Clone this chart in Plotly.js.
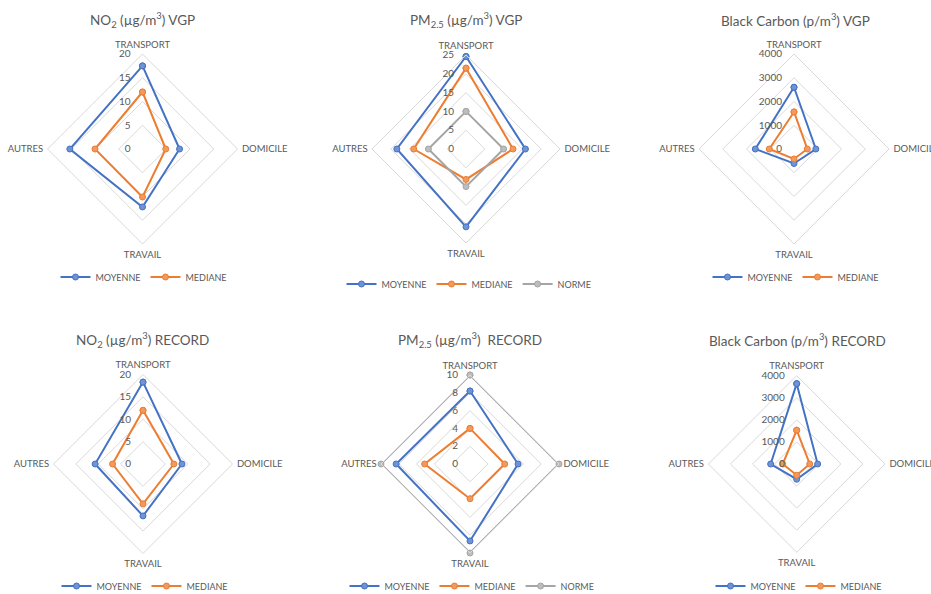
<!DOCTYPE html>
<html>
<head>
<meta charset="utf-8">
<script src="https://cdn.plot.ly/plotly-3.0.1.min.js"></script>
<style>html,body{margin:0;padding:0;background:#fff;}#chart{width:931px;height:594px;}</style>
</head>
<body>
<div id="chart"></div>
<script>
// ---- Data ----
const categories = ['TRANSPORT', 'DOMICILE', 'TRAVAIL', 'AUTRES'];
const seriesNames = ['MOYENNE', 'MEDIANE', 'NORME'];

const no2VgpMoyenne = [17.5, 7.8, 12.2, 15.3];
const no2VgpMediane = [12.0, 4.9, 10.1, 10.0];

const pm25VgpMoyenne = [24.6, 15.8, 20.7, 18.4];
const pm25VgpMediane = [21.5, 12.5, 8.1, 13.9];
const pm25VgpNorme = [10, 10, 10, 10];

const bcVgpMoyenne = [2600, 920, 610, 1630];
const bcVgpMediane = [1560, 560, 420, 1040];

const no2RecMoyenne = [18.3, 8.7, 11.6, 10.7];
const no2RecMediane = [12.0, 6.9, 8.9, 6.8];

const pm25RecMoyenne = [8.2, 5.4, 8.65, 8.3];
const pm25RecMediane = [4.0, 3.9, 3.9, 5.1];
const pm25RecNorme = [10, 10, 10, 10];

const bcRecMoyenne = [3640, 950, 690, 1180];
const bcRecMediane = [1530, 590, 510, 630];

const titles = [
  'NO<sub>2</sub> (µg/m<sup>3</sup>) VGP',
  'PM<sub>2.5</sub> (µg/m<sup>3</sup>) VGP',
  'Black Carbon (p/m<sup>3</sup>) VGP',
  'NO<sub>2</sub> (µg/m<sup>3</sup>) RECORD',
  'PM<sub>2.5</sub> (µg/m<sup>3</sup>)  RECORD',
  'Black Carbon (p/m<sup>3</sup>) RECORD'
];
const radialMax = [20, 25, 4000, 20, 10, 4000];
const radialStep = [5, 5, 1000, 5, 2, 1000];

const chartSeries = [
  [no2VgpMoyenne, no2VgpMediane],
  [pm25VgpMoyenne, pm25VgpMediane, pm25VgpNorme],
  [bcVgpMoyenne, bcVgpMediane],
  [no2RecMoyenne, no2RecMediane],
  [pm25RecMoyenne, pm25RecMediane, pm25RecNorme],
  [bcRecMoyenne, bcRecMediane]
];

// ---- Layout config (pixels) ----
const W = 931, H = 594;
const centers = [[142.5,149,95],[466,149,94],[794,149,95],[143,464,89.5],[470,464,89],[796.7,464,88.3]];
const titlePos = [[142,20],[466,20],[795,20],[142.5,340],[470,340],[797,340]];
const legendPos = [[144,277],[469,284],[796,277],[145,586],[472,586],[799,586]];
const colors = ['#4472C4', '#ED7D31', '#A5A5A5'];
const fills = ['#6F93D3', '#F19A5E', '#BDBDBD'];
const textColor = '#595959';
const gridColor = '#D9D9D9';
const fontFam = 'Lato, "Open Sans", "Liberation Sans", sans-serif';

const traces = [];
const layout = {
  width: W, height: H,
  margin: {l: 0, r: 0, t: 0, b: 0, autoexpand: false},
  paper_bgcolor: '#ffffff',
  font: {family: fontFam, color: textColor},
  showlegend: true,
  annotations: []
};

chartSeries.forEach((series, i) => {
  const pKey = i === 0 ? 'polar' : 'polar' + (i + 1);
  const lKey = i === 0 ? 'legend' : 'legend' + (i + 1);
  series.forEach((vals, s) => {
    traces.push({
      type: 'scatterpolar',
      subplot: pKey,
      legend: lKey,
      name: seriesNames[s],
      r: vals.concat([vals[0]]),
      theta: categories.concat([categories[0]]),
      mode: 'lines+markers',
      line: {color: colors[s], width: 2},
      marker: {symbol: 'circle', size: 6, color: fills[s], line: {color: colors[s], width: 1}},
      cliponaxis: false,
      hoverinfo: 'r+theta'
    });
  });
  const [cx, cy, r] = centers[i];
  layout[pKey] = {
    domain: {x: [(cx - r) / W, (cx + r) / W], y: [(H - cy - r) / H, (H - cy + r) / H]},
    bgcolor: 'rgba(0,0,0,0)',
    gridshape: 'linear',
    radialaxis: {
      range: [0, radialMax[i]], dtick: radialStep[i], tick0: 0,
      angle: 90, side: 'counterclockwise', tickangle: 90,
      showline: false, ticks: 'outside', ticklen: 8, tickcolor: 'rgba(0,0,0,0)',
      gridcolor: gridColor, gridwidth: 1,
      tickfont: {size: 10, color: textColor, family: fontFam}
    },
    angularaxis: {
      direction: 'clockwise', rotation: 90,
      showgrid: false, showline: true, linecolor: gridColor, linewidth: 1,
      ticks: 'outside', ticklen: 2, tickcolor: 'rgba(0,0,0,0)',
      tickfont: {size: 9.5, color: textColor, family: fontFam}
    }
  };
  layout[lKey] = {
    orientation: 'h', x: legendPos[i][0] / W, y: 1 - legendPos[i][1] / H,
    xanchor: 'center', yanchor: 'middle', bgcolor: 'rgba(0,0,0,0)',
    font: {size: 9, color: textColor, family: fontFam}, itemwidth: 30,
    traceorder: 'normal'
  };
  layout.annotations.push({
    text: titles[i], x: titlePos[i][0] / W, y: 1 - titlePos[i][1] / H,
    xref: 'paper', yref: 'paper', xanchor: 'center', yanchor: 'middle',
    showarrow: false, font: {size: 13.5, color: textColor, family: fontFam}
  });
});

Plotly.newPlot('chart', traces, layout, {displayModeBar: false, staticPlot: true});
</script>
</body>
</html>
